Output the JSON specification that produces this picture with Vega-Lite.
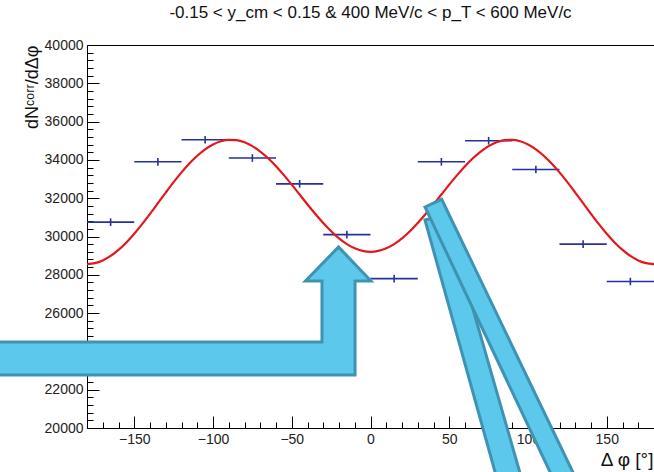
{
  "$schema": "https://vega.github.io/schema/vega-lite/v6.json",
  "width": 567,
  "height": 383,
  "autosize": "none",
  "padding": {"left": 87, "top": 45, "right": 0, "bottom": 44},
  "background": "#ffffff",
  "config": {"view": {"stroke": "#000000", "strokeWidth": 1}, "font": "Liberation Sans"},
  "title": {
    "text": "-0.15 < y_cm < 0.15 & 400 MeV/c < p_T < 600 MeV/c",
    "font": "Liberation Sans",
    "fontSize": 17,
    "fontWeight": "normal",
    "color": "#111111",
    "anchor": "middle",
    "offset": 16
  },
  "datasets": {
    "points": [
      {"phi": -165, "lo": -180, "hi": -150, "v": 30750, "vlo": 30550, "vhi": 30950},
      {"phi": -135, "lo": -150, "hi": -120, "v": 33900, "vlo": 33700, "vhi": 34100},
      {"phi": -105, "lo": -120, "hi": -90, "v": 35050, "vlo": 34850, "vhi": 35250},
      {"phi": -75, "lo": -90, "hi": -60, "v": 34100, "vlo": 33900, "vhi": 34300},
      {"phi": -45, "lo": -60, "hi": -30, "v": 32750, "vlo": 32550, "vhi": 32950},
      {"phi": -15, "lo": -30, "hi": 0, "v": 30100, "vlo": 29900, "vhi": 30300},
      {"phi": 15, "lo": 0, "hi": 30, "v": 27800, "vlo": 27600, "vhi": 28000},
      {"phi": 45, "lo": 30, "hi": 60, "v": 33900, "vlo": 33700, "vhi": 34100},
      {"phi": 75, "lo": 60, "hi": 90, "v": 35000, "vlo": 34800, "vhi": 35200},
      {"phi": 105, "lo": 90, "hi": 120, "v": 33500, "vlo": 33300, "vhi": 33700},
      {"phi": 135, "lo": 120, "hi": 150, "v": 29600, "vlo": 29400, "vhi": 29800},
      {"phi": 165, "lo": 150, "hi": 180, "v": 27650, "vlo": 27450, "vhi": 27850}
    ],
    "curve": [
      {"phi": -180, "v": 28560}, {"phi": -175, "v": 28608}, {"phi": -170, "v": 28751}, {"phi": -165, "v": 28984},
      {"phi": -160, "v": 29301}, {"phi": -155, "v": 29692}, {"phi": -150, "v": 30145}, {"phi": -145, "v": 30648},
      {"phi": -140, "v": 31184}, {"phi": -135, "v": 31739}, {"phi": -130, "v": 32295}, {"phi": -125, "v": 32837},
      {"phi": -120, "v": 33348}, {"phi": -115, "v": 33813}, {"phi": -110, "v": 34219}, {"phi": -105, "v": 34554},
      {"phi": -100, "v": 34808}, {"phi": -95, "v": 34975}, {"phi": -90, "v": 35050}, {"phi": -85, "v": 35031},
      {"phi": -80, "v": 34920}, {"phi": -75, "v": 34720}, {"phi": -70, "v": 34438}, {"phi": -65, "v": 34083},
      {"phi": -60, "v": 33668}, {"phi": -55, "v": 33204}, {"phi": -50, "v": 32706}, {"phi": -45, "v": 32191},
      {"phi": -40, "v": 31674}, {"phi": -35, "v": 31172}, {"phi": -30, "v": 30700}, {"phi": -25, "v": 30272},
      {"phi": -20, "v": 29903}, {"phi": -15, "v": 29602}, {"phi": -10, "v": 29381}, {"phi": -5, "v": 29246},
      {"phi": 0, "v": 29200},
      {"phi": 5, "v": 29246}, {"phi": 10, "v": 29381}, {"phi": 15, "v": 29602}, {"phi": 20, "v": 29903},
      {"phi": 25, "v": 30272}, {"phi": 30, "v": 30700}, {"phi": 35, "v": 31172}, {"phi": 40, "v": 31674},
      {"phi": 45, "v": 32191}, {"phi": 50, "v": 32706}, {"phi": 55, "v": 33204}, {"phi": 60, "v": 33668},
      {"phi": 65, "v": 34083}, {"phi": 70, "v": 34438}, {"phi": 75, "v": 34720}, {"phi": 80, "v": 34920},
      {"phi": 85, "v": 35031}, {"phi": 90, "v": 35050}, {"phi": 95, "v": 34975}, {"phi": 100, "v": 34808},
      {"phi": 105, "v": 34554}, {"phi": 110, "v": 34219}, {"phi": 115, "v": 33813}, {"phi": 120, "v": 33348},
      {"phi": 125, "v": 32837}, {"phi": 130, "v": 32295}, {"phi": 135, "v": 31739}, {"phi": 140, "v": 31184},
      {"phi": 145, "v": 30648}, {"phi": 150, "v": 30145}, {"phi": 155, "v": 29692}, {"phi": 160, "v": 29301},
      {"phi": 165, "v": 28984}, {"phi": 170, "v": 28751}, {"phi": 175, "v": 28608}, {"phi": 180, "v": 28560}
    ],
    "arrows": [
      {"id": "a", "i": 1, "phi": -248, "v": 24491},
      {"id": "a", "i": 2, "phi": -30.8, "v": 24491},
      {"id": "a", "i": 3, "phi": -30.8, "v": 27676},
      {"id": "a", "i": 4, "phi": -41.3, "v": 27676},
      {"id": "a", "i": 5, "phi": -20.3, "v": 29452},
      {"id": "a", "i": 6, "phi": 0.3, "v": 27676},
      {"id": "a", "i": 7, "phi": -9.8, "v": 27676},
      {"id": "a", "i": 8, "phi": -9.8, "v": 22767},
      {"id": "a", "i": 9, "phi": -248, "v": 22767},
      {"id": "b", "i": 1, "phi": 34.6, "v": 30861},
      {"id": "b", "i": 2, "phi": 47.9, "v": 31123},
      {"id": "b", "i": 3, "phi": 96.2, "v": 17284},
      {"id": "b", "i": 4, "phi": 80.5, "v": 17284},
      {"id": "c", "i": 1, "phi": 34.6, "v": 31540},
      {"id": "c", "i": 2, "phi": 45.2, "v": 31942},
      {"id": "c", "i": 3, "phi": 130.9, "v": 17284},
      {"id": "c", "i": 4, "phi": 116.4, "v": 17284}
    ]
  },
  "layer": [
    {
      "data": {"name": "points"},
      "mark": {"type": "rule", "color": "#26329c", "strokeWidth": 1.6},
      "encoding": {
        "x": {
          "field": "lo",
          "type": "quantitative",
          "scale": {"domain": [-180, 180], "nice": false, "zero": false},
          "axis": {
            "title": "Δ φ [°]",
            "titleFont": "Liberation Sans",
            "titleFontSize": 19,
            "titleFontWeight": "normal",
            "titleColor": "#111111",
            "titleAnchor": "end",
            "titleAlign": "right",
            "titleBaseline": "alphabetic",
            "titleX": 566,
            "titleY": 37,
            "values": [-170, -160, -150, -140, -130, -120, -110, -100, -90, -80, -70, -60, -50, -40, -30, -20, -10, 0, 10, 20, 30, 40, 50, 60, 70, 80, 90, 100, 110, 120, 130, 140, 150, 160, 170],
            "tickCount": 1000,
            "format": "d",
            "labelExpr": "datum.value % 50 === 0 ? datum.label : ''",
            "labelOverlap": false,
            "labelFlush": false,
            "labelFont": "Liberation Sans",
            "labelFontSize": 14,
            "labelColor": "#222222",
            "labelPadding": 16,
            "tickSize": {"condition": {"test": "datum.value % 50 === 0", "value": -12}, "value": -6},
            "tickColor": "#000000",
            "domainColor": "#000000",
            "grid": false
          }
        },
        "x2": {"field": "hi"},
        "y": {
          "field": "v",
          "type": "quantitative",
          "scale": {"domain": [20000, 40000], "nice": false, "zero": false},
          "axis": {
            "title": "dNᶜᵒʳʳ/dΔφ",
            "titleFont": "Liberation Sans",
            "titleFontSize": 18,
            "titleFontWeight": "normal",
            "titleColor": "#111111",
            "titleAnchor": "end",
            "titleBaseline": "bottom",
            "titleX": -46,
            "titleY": 0,
            "values": [20000, 20400, 20800, 21200, 21600, 22000, 22400, 22800, 23200, 23600, 24000, 24400, 24800, 25200, 25600, 26000, 26400, 26800, 27200, 27600, 28000, 28400, 28800, 29200, 29600, 30000, 30400, 30800, 31200, 31600, 32000, 32400, 32800, 33200, 33600, 34000, 34400, 34800, 35200, 35600, 36000, 36400, 36800, 37200, 37600, 38000, 38400, 38800, 39200, 39600, 40000],
            "tickCount": 1000,
            "format": "d",
            "labelExpr": "datum.value % 2000 === 0 ? datum.label : ''",
            "labelOverlap": false,
            "labelFlush": false,
            "labelFont": "Liberation Sans",
            "labelFontSize": 14,
            "labelColor": "#222222",
            "labelPadding": 16,
            "tickSize": {"condition": {"test": "datum.value % 2000 === 0", "value": -12}, "value": -6},
            "tickColor": "#000000",
            "domainColor": "#000000",
            "grid": false
          }
        }
      }
    },
    {
      "data": {"name": "points"},
      "mark": {"type": "rule", "color": "#26329c", "strokeWidth": 1.6},
      "encoding": {
        "x": {"field": "phi", "type": "quantitative", "scale": {"domain": [-180, 180], "nice": false, "zero": false}},
        "y": {"field": "vlo", "type": "quantitative", "scale": {"domain": [20000, 40000], "nice": false, "zero": false}},
        "y2": {"field": "vhi"}
      }
    },
    {
      "data": {"name": "curve"},
      "mark": {"type": "line", "color": "#e3171c", "strokeWidth": 2.2, "interpolate": "monotone"},
      "encoding": {
        "x": {"field": "phi", "type": "quantitative", "scale": {"domain": [-180, 180], "nice": false, "zero": false}},
        "y": {"field": "v", "type": "quantitative", "scale": {"domain": [20000, 40000], "nice": false, "zero": false}}
      }
    },
    {
      "data": {"name": "arrows"},
      "transform": [{"filter": "datum.id === 'a'"}],
      "mark": {"type": "line", "fill": "#5cc8ec", "stroke": "#3f93b1", "strokeWidth": 3, "strokeJoin": "miter", "interpolate": "linear-closed", "clip": false},
      "encoding": {
        "x": {"field": "phi", "type": "quantitative", "scale": {"domain": [-180, 180], "nice": false, "zero": false}},
        "y": {"field": "v", "type": "quantitative", "scale": {"domain": [20000, 40000], "nice": false, "zero": false}},
        "order": {"field": "i", "type": "quantitative"}
      }
    },
    {
      "data": {"name": "arrows"},
      "transform": [{"filter": "datum.id === 'b'"}],
      "mark": {"type": "line", "fill": "#5cc8ec", "stroke": "#3f93b1", "strokeWidth": 3, "strokeJoin": "miter", "interpolate": "linear-closed", "clip": false},
      "encoding": {
        "x": {"field": "phi", "type": "quantitative", "scale": {"domain": [-180, 180], "nice": false, "zero": false}},
        "y": {"field": "v", "type": "quantitative", "scale": {"domain": [20000, 40000], "nice": false, "zero": false}},
        "order": {"field": "i", "type": "quantitative"}
      }
    },
    {
      "data": {"name": "arrows"},
      "transform": [{"filter": "datum.id === 'c'"}],
      "mark": {"type": "line", "fill": "#5cc8ec", "stroke": "#3f93b1", "strokeWidth": 3, "strokeJoin": "miter", "interpolate": "linear-closed", "clip": false},
      "encoding": {
        "x": {"field": "phi", "type": "quantitative", "scale": {"domain": [-180, 180], "nice": false, "zero": false}},
        "y": {"field": "v", "type": "quantitative", "scale": {"domain": [20000, 40000], "nice": false, "zero": false}},
        "order": {"field": "i", "type": "quantitative"}
      }
    }
  ]
}
